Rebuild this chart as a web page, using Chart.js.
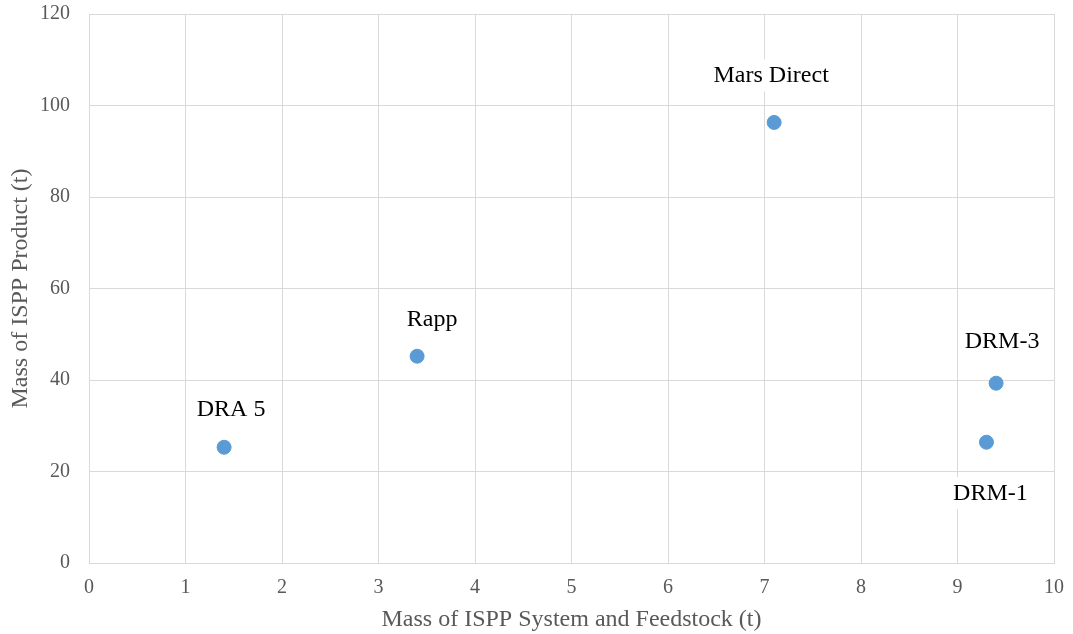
<!DOCTYPE html>
<html>
<head>
<meta charset="utf-8">
<script src="https://cdn.jsdelivr.net/npm/chart.js@4/dist/chart.umd.min.js"></script>
<style>
html,body{margin:0;padding:0;background:#fff;}
#wrap{width:1073px;height:634px;}
</style>
</head>
<body>
<div id="wrap"><canvas id="c" width="1073" height="634"></canvas></div>
<script>
const names = ["DRA 5", "Rapp", "Mars Direct", "DRM-3", "DRM-1"];
const systemMass = [1.4, 3.4, 7.1, 9.4, 9.3];
const productMass = [25.3, 45.2, 96.3, 39.3, 26.4];
const xTitle = "Mass of ISPP System and Feedstock (t)";
const yTitle = "Mass of ISPP Product (t)";

// label placement offsets in px relative to the point (style, not data)
const labelOffsets = [[7, -38], [15, -37], [-3, -47], [6, -41], [4, 51]];

const labelPlugin = {
  id: 'ptLabels',
  afterDatasetsDraw(chart) {
    const ctx = chart.ctx;
    const meta = chart.getDatasetMeta(0);
    ctx.save();
    ctx.font = '24px "Liberation Serif", "Times New Roman", serif';
    ctx.textAlign = 'center';
    ctx.textBaseline = 'middle';
    meta.data.forEach((pt, i) => {
      const [dx, dy] = labelOffsets[i];
      const x = pt.x + dx, y = pt.y + dy;
      const w = ctx.measureText(names[i]).width;
      ctx.fillStyle = '#ffffff';
      ctx.fillRect(x - w / 2 - 6, y - 16, w + 12, 32);
      ctx.fillStyle = '#000000';
      ctx.fillText(names[i], x, y);
    });
    ctx.restore();
  }
};

new Chart(document.getElementById('c'), {
  type: 'scatter',
  data: {
    datasets: [{
      data: systemMass.map((x, i) => ({x, y: productMass[i]})),
      backgroundColor: '#5b9bd5',
      borderColor: '#5b9bd5',
      pointRadius: 7,
      pointHoverRadius: 7
    }]
  },
  options: {
    responsive: false,
    animation: false,
    layout: { padding: { top: 14, right: 19, left: 0, bottom: 0 } },
    plugins: { legend: { display: false }, tooltip: { enabled: false } },
    scales: {
      x: {
        min: 0, max: 10,
        ticks: { stepSize: 1, color: '#595959', padding: 13, maxRotation: 0,
          font: { family: '"Liberation Serif", "Times New Roman", serif', size: 20 } },
        grid: { color: '#d9d9d9', lineWidth: 1, drawTicks: false },
        border: { color: '#d9d9d9' },
        title: { display: true, text: xTitle, color: '#595959', padding: { top: 4, bottom: 0 },
          font: { family: '"Liberation Serif", "Times New Roman", serif', size: 24 } },
        afterFit(s) { s.height = 71; s.paddingLeft = 0; s.paddingRight = 0; }
      },
      y: {
        min: 0, max: 120,
        ticks: { stepSize: 20, color: '#595959', padding: 19,
          font: { family: '"Liberation Serif", "Times New Roman", serif', size: 20 } },
        grid: { color: '#d9d9d9', lineWidth: 1, drawTicks: false },
        border: { color: '#d9d9d9' },
        title: { display: true, text: yTitle, color: '#595959', padding: { top: 6, bottom: 4 },
          font: { family: '"Liberation Serif", "Times New Roman", serif', size: 24 } },
        afterFit(s) { s.width = 89; s.paddingTop = 0; s.paddingBottom = 0; }
      }
    }
  },
  plugins: [labelPlugin]
});
</script>
</body>
</html>
